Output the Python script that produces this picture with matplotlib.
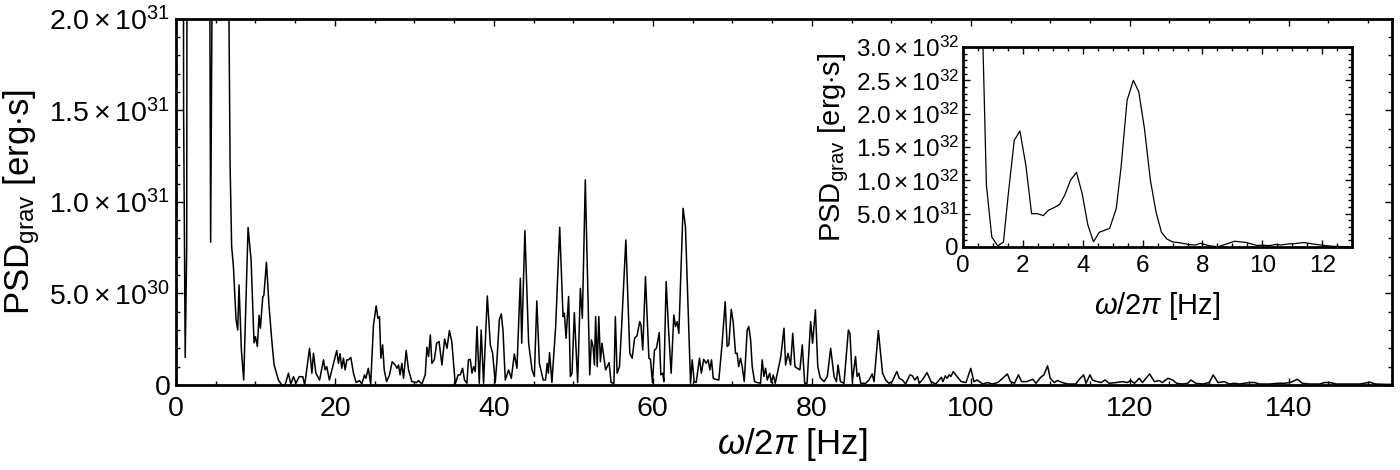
import numpy as np
import matplotlib
matplotlib.use("Agg")
import matplotlib.pyplot as plt
from matplotlib.ticker import MultipleLocator

plt.rcParams['font.family'] = ['Liberation Sans', 'DejaVu Sans']
plt.rcParams['mathtext.fontset'] = 'custom'
plt.rcParams['mathtext.rm'] = 'Liberation Sans'
plt.rcParams['mathtext.it'] = 'Liberation Sans:italic'

# gravitational-wave PSD (psd in units of 1e30 erg s)
freq_hz = [
    # 0 - 7 Hz (from the inset)
    0.50, 0.78, 0.96, 1.16, 1.35, 1.52, 1.71, 1.90, 2.10, 2.29,
    2.48, 2.68, 2.85, 3.04, 3.23, 3.40, 3.59, 3.79, 3.98, 4.17,
    4.36, 4.55, 4.72, 4.90, 5.12, 5.28, 5.48, 5.69, 5.87, 6.06,
    6.26, 6.45, 6.63, 6.81, 7.00,
    # 7 - 20 Hz
    7.22, 7.56, 7.77, 7.93, 8.23, 8.52, 9.07, 9.45, 9.82, 10.00,
    10.24, 10.45, 10.62, 10.92, 11.06, 11.38, 11.71, 12.05, 12.34, 12.89,
    13.30, 13.73, 14.15, 14.44, 14.78, 15.10, 15.50, 15.95, 16.20, 16.80,
    17.10, 17.30, 17.60, 18.07, 18.56, 18.76, 18.97, 19.30,
    # 20 - 40 Hz
    19.82, 20.23, 20.44, 20.65, 20.86, 21.07, 21.28, 21.50, 21.70, 22.00,
    22.33, 22.67, 23.09, 23.38, 23.72, 23.90, 24.20, 24.50, 24.85, 25.19,
    25.40, 25.60, 25.78, 26.00, 26.20, 26.50, 26.87, 27.20, 27.58, 27.80,
    28.00, 28.20, 28.42, 28.63, 28.96, 29.26, 29.68, 30.30, 30.50, 30.94,
    31.36, 31.57, 31.78, 32.00, 32.20, 32.50, 32.80, 33.10, 33.46, 33.80,
    34.10, 34.40, 34.70, 35.14, 35.50, 35.77, 36.06, 36.30, 36.60, 36.80,
    37.03, 37.24, 37.45, 37.66, 37.87, 38.16, 38.40, 38.70, 39.17, 39.55,
    39.84,
    # 40 - 60 Hz
    40.17, 40.39, 40.68, 40.93, 41.14, 41.43, 41.85, 42.19, 42.57, 42.90,
    43.33, 43.50, 43.90, 44.37, 44.80, 45.09, 45.40, 45.72, 46.20, 46.50,
    46.70, 46.85, 47.00, 47.30, 47.77, 48.28, 48.70, 48.87, 49.08, 49.40,
    49.62, 49.83, 50.12, 50.54, 50.88, 51.13, 51.50, 52.06, 52.27, 52.48,
    52.65, 52.80, 53.00, 53.20, 53.40, 53.60, 54.05, 54.50, 54.74, 55.10,
    55.28, 55.50, 55.80, 56.05, 56.60, 57.10, 57.40, 57.70, 58.00, 58.35,
    58.50, 58.73, 59.07, 59.50, 59.70,
    # 60 - 81 Hz
    59.95, 60.20, 60.45, 60.80, 61.00, 61.25, 61.38, 61.67, 62.00, 62.30,
    62.64, 62.85, 63.06, 63.27, 63.80, 64.10, 64.74, 64.95, 65.20, 65.45,
    65.87, 66.10, 66.40, 66.70, 66.96, 67.17, 67.38, 67.60, 67.88, 68.30,
    68.70, 69.10, 69.35, 69.56, 69.86, 70.10, 70.40, 70.60, 70.80, 71.03,
    71.24, 71.50, 71.87, 72.07, 72.30, 72.50, 72.80, 73.13, 73.55, 73.76,
    73.97, 74.18, 74.40, 74.70, 74.90, 75.15, 75.40, 76.10, 76.50, 76.70,
    77.00, 77.33, 77.60, 77.88, 78.17, 78.50, 78.80, 79.10, 79.40, 79.85,
    80.10, 80.45, 80.75, 81.05,
    # 81 - 115 Hz
    81.53, 81.95, 82.37, 82.80, 83.10, 83.30, 83.60, 84.05, 84.60, 84.80,
    85.10, 85.50, 85.70, 85.93, 86.15, 86.78, 87.20, 87.60, 87.83, 88.37,
    88.90, 89.30, 89.70, 90.10, 90.70, 91.00, 91.40, 91.80, 92.35, 92.65,
    92.95, 93.30, 93.50, 93.90, 94.50, 95.00, 95.60, 96.30, 96.50, 96.80,
    97.00, 97.30, 97.50, 97.80, 98.20, 98.80, 99.40, 100.0, 100.4, 100.8,
    101.5, 102.1, 102.7, 103.4, 104.0, 104.6, 105.0, 105.5, 106.0, 106.4,
    107.0, 107.4, 107.8, 108.2, 108.8, 109.2, 109.66, 110.0, 110.5, 110.9,
    111.5, 112.2, 113.2, 113.65, 114.2, 114.5, 115.0, 115.3,
    # 115 - 153 Hz
    115.75, 116.4, 116.9, 117.4, 118.3, 119.1, 119.7, 120.1, 120.6, 121.2,
    121.6, 122.5, 123.1, 123.7, 124.1, 124.8, 125.4, 125.9, 126.6, 127.3,
    127.7, 128.0, 128.3, 129.2, 130.0, 130.5, 131.1, 131.9, 132.5, 133.2,
    133.8, 135.05, 135.7, 136.3, 137.6, 138.6, 139.5, 140.3, 141.1, 141.7,
    142.6, 143.9, 144.5, 145.2, 146.0, 147.7, 149.0, 150.2, 150.9, 152.3,
    153.3,
]

psd_1e30 = [
    600, 93, 15, 1.5, 7.5, 83, 160, 174, 122, 50,
    50, 47, 55, 59, 64, 78, 100, 112, 80, 33,
    7.8, 22, 25, 28, 58, 120, 220, 250, 233, 178,
    100, 52, 22, 12, 7.6,

    6.5, 3.55, 3.0, 5.46, 1.9, 0.27, 8.6, 6.83, 2.3, 2.64,
    2.1, 3.8, 3.1, 4.8, 4.9, 6.7, 4.3, 2.46, 1.1, 0.27,
    0.0, 0.0, 0.64, 0.05, 0.45, 0.1, 0.45, 0.45, 0.0, 2.0,
    0.64, 1.73, 0.64, 0.27, 1.37, 0.82, 1.0, 0.27,

    1.18, 1.88, 1.18, 1.7, 0.91, 1.46, 0.82, 1.37, 1.37, 1.5,
    0.64, 0.13, 0.24, 0.05, 0.55, 0.36, 0.91, 0.05, 3.28, 4.32,
    3.64, 3.73, 1.46, 2.19, 0.82, 0.18, 0.55, 1.27, 1.09, 0.91,
    1.09, 0.55, 1.18, 0.36, 1.88, 0.82, 0.18, 0.13, 0.24, 0.05,
    0.55, 2.06, 1.55, 2.73, 1.18, 1.37, 2.28, 2.37, 1.09, 2.51,
    2.0, 2.97, 2.37, 0.05, 0.55, 0.55, 0.91, 0.27, 0.09, 1.37,
    1.4, 0.64, 1.0, 0.73, 3.19, 0.09, 3.0, 0.09, 4.86, 2.19,
    1.73,

    0.13, 1.37, 3.55, 3.88, 3.0, 0.27, 0.82, 0.36, 1.69, 0.91,
    5.83, 2.28, 8.43, 2.28, 0.82, 0.46, 4.59, 1.18, 0.27, 0.27,
    1.18, 0.64, 1.77, 0.13, 3.19, 8.61, 3.73, 3.92, 2.55, 4.83,
    0.46, 0.64, 3.95, 0.13, 5.28, 3.64, 11.2, 0.55, 2.46, 2.1,
    1.09, 3.73, 1.0, 3.73, 1.27, 2.28, 0.82, 1.22, 0.13, 0.09,
    3.73, 0.64, 1.0, 3.0, 7.92, 1.73, 1.46, 2.55, 2.68, 3.46,
    3.28, 1.91, 5.92, 1.46, 1.4,

    0.12, 1.9, 2.0, 2.86, 0.55, 0.64, 0.18, 5.65, 2.82, 0.64,
    3.82, 3.19, 3.46, 2.82, 9.65, 8.65, 0.09, 1.37, 0.18, 0.13,
    1.46, 0.64, 1.4, 1.18, 1.37, 0.82, 1.37, 0.36, 0.31, 0.27,
    2.19, 4.55, 2.1, 2.19, 4.13, 3.46, 1.73, 1.73, 1.0, 1.46,
    1.0, 0.18, 3.0, 3.19, 2.46, 1.0, 0.18, 0.13, 0.09, 1.37,
    0.46, 0.91, 0.27, 0.64, 0.13, 0.55, 0.09, 1.55, 3.1, 1.09,
    1.73, 1.09, 2.82, 1.0, 0.91, 0.82, 2.19, 0.09, 0.09, 3.46,
    2.28, 4.1, 1.0, 0.4,

    0.18, 0.46, 2.0, 0.46, 0.18, 1.09, 0.18, 0.09, 3.0, 2.82,
    0.18, 1.55, 0.46, 0.64, 0.09, 0.09, 0.27, 0.6, 0.18, 2.97,
    0.64, 0.27, 0.09, 0.18, 0.73, 0.36, 0.27, 0.05, 0.55, 0.5,
    0.27, 0.46, 0.09, 0.27, 0.67, 0.18, 0.05, 0.42, 0.18, 0.5,
    0.36, 0.55, 0.46, 0.73, 0.5, 0.18, 0.13, 0.91, 0.18, 0.27,
    0.05, 0.13, 0.05, 0.13, 0.36, 0.6, 0.18, 0.09, 0.55, 0.18,
    0.18, 0.24, 0.31, 0.09, 0.42, 0.55, 1.04, 0.36, 0.13, 0.24,
    0.13, 0.05, 0.05, 0.31, 0.55, 0.09, 0.55, 0.27,

    0.2, 0.13, 0.27, 0.09, 0.13, 0.18, 0.13, 0.24, 0.09, 0.36,
    0.13, 0.6, 0.18, 0.24, 0.13, 0.36, 0.27, 0.09, 0.05, 0.09,
    0.27, 0.18, 0.09, 0.05, 0.13, 0.55, 0.13, 0.18, 0.05, 0.09,
    0.05, 0.13, 0.13, 0.05, 0.05, 0.09, 0.09, 0.15, 0.31, 0.09,
    0.05, 0.05, 0.13, 0.13, 0.05, 0.05, 0.05, 0.15, 0.05, 0.03,
    0.03,
]

main_xticks = [0, 20, 40, 60, 80, 100, 120, 140]
main_yticks = [0, 5e30, 1e31, 1.5e31, 2e31]
main_ylabels = ['0', r'$5.0\times10^{30}$', r'$1.0\times10^{31}$',
                r'$1.5\times10^{31}$', r'$2.0\times10^{31}$']

inset_xticks = [0, 2, 4, 6, 8, 10, 12]
inset_yticks = [0, 5e31, 1e32, 1.5e32, 2e32, 2.5e32, 3e32]
inset_ylabels = ['0', r'$5.0\times10^{31}$', r'$1.0\times10^{32}$',
                 r'$1.5\times10^{32}$', r'$2.0\times10^{32}$',
                 r'$2.5\times10^{32}$', r'$3.0\times10^{32}$']

assert len(freq_hz) == len(psd_1e30)
freq = np.array(freq_hz)
psd = np.array(psd_1e30) * 1e30

xlabel = r'$\omega$/2$\pi$ [Hz]'
ylabel = r'PSD$_{\mathrm{grav}}$ [erg$\cdot$s]'


def style_frame(ax, labelsize, xpad, ypad):
    ax.tick_params(which='both', direction='in', top=True, right=True,
                   width=1.0, colors='black')
    ax.tick_params(which='major', length=5)
    ax.tick_params(which='minor', length=3)
    ax.tick_params(axis='x', labelsize=labelsize, pad=xpad)
    ax.tick_params(axis='y', labelsize=labelsize, pad=ypad)
    for s in ax.spines.values():
        s.set_linewidth(2)


fig = plt.figure(figsize=(14, 4.7), dpi=100)

# main panel
ax = fig.add_axes([0.1257, 0.181, 0.8686, 0.779])
ax.plot(freq, psd, color='black', lw=1.1)
ax.set_xlim(0, 153)
ax.set_ylim(0, 2e31)
ax.set_xticks(main_xticks)
ax.set_xticklabels([str(t) for t in main_xticks])
ax.xaxis.set_minor_locator(MultipleLocator(5))
ax.set_yticks(main_yticks)
ax.set_yticklabels(main_ylabels)
ax.yaxis.set_minor_locator(MultipleLocator(1e30))
style_frame(ax, 20.5, 8, 4)
ax.set_xlabel(xlabel, fontsize=25)
ax.set_ylabel(ylabel, fontsize=25)
ax.xaxis.set_label_coords(0.507, -0.112)
ax.yaxis.set_label_coords(-0.110, 0.5)

# inset, zoom on the low-frequency part
axi = fig.add_axes([0.6879, 0.4745, 0.2779, 0.4255])
axi.plot(freq, psd, color='black', lw=0.9)
axi.set_xlim(0, 13)
axi.set_ylim(0, 3e32)
axi.set_xticks(inset_xticks)
axi.set_xticklabels([str(t) for t in inset_xticks])
axi.xaxis.set_minor_locator(MultipleLocator(0.5))
axi.set_yticks(inset_yticks)
axi.set_yticklabels(inset_ylabels)
axi.yaxis.set_minor_locator(MultipleLocator(1e31))
style_frame(axi, 17.5, 6, 3)
axi.set_xlabel(xlabel, fontsize=21)
axi.set_ylabel(ylabel, fontsize=21)
axi.xaxis.set_label_coords(0.5, -0.215)
axi.yaxis.set_label_coords(-0.289, 0.5)

fig.savefig('out.png', dpi=100)
